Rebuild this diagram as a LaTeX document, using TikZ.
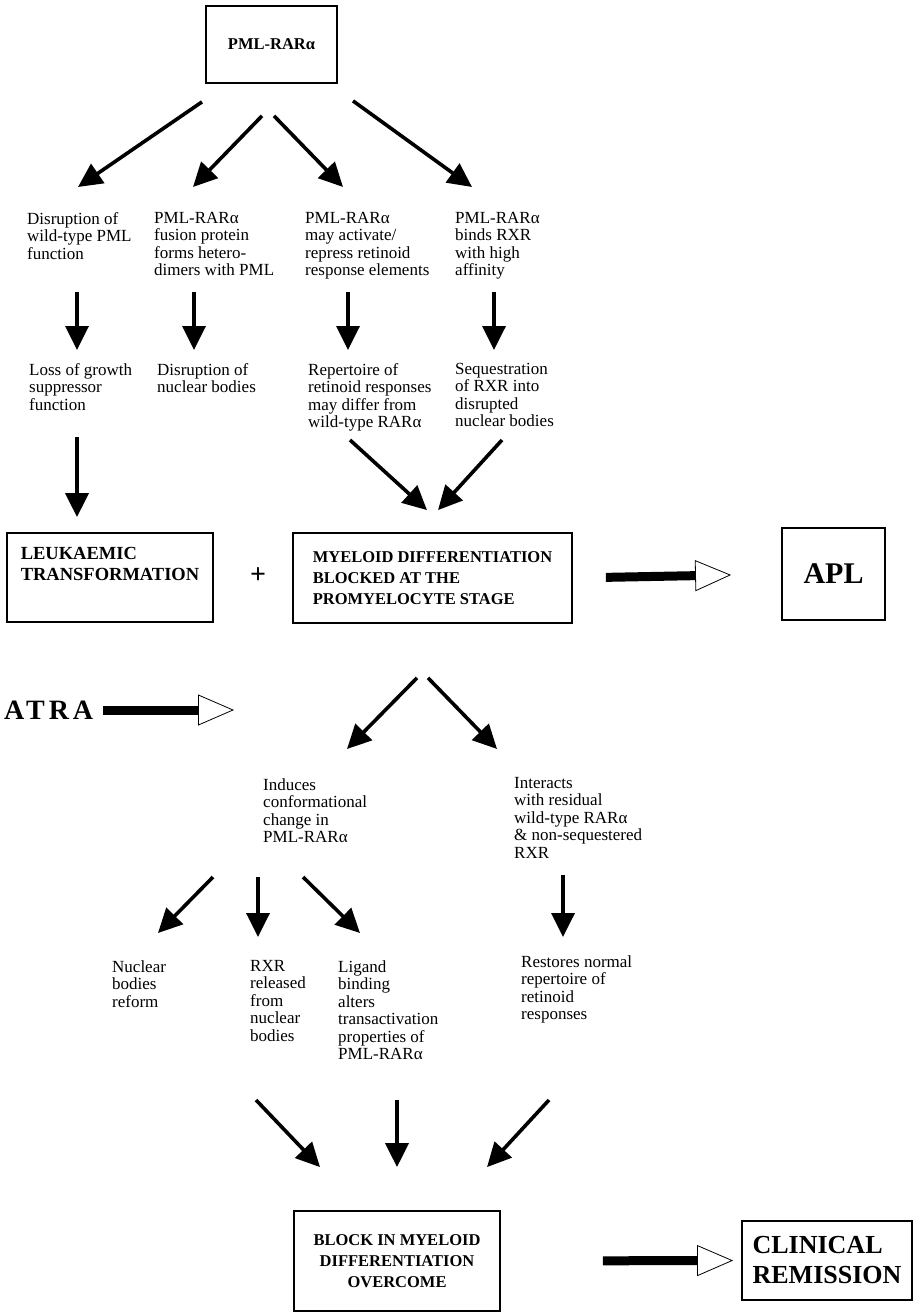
\documentclass[tikz,border=0pt]{standalone}
\usepackage{fontspec}
\setmainfont{Liberation Serif}
\usetikzlibrary{arrows.meta}

\begin{document}
\begin{tikzpicture}[x=1pt,y=-1pt,
   txt/.style={anchor=north west,align=left,inner sep=0pt,font=\fontsize{17}{17.5}\selectfont},
   box/.style={draw,line width=1.8pt,inner sep=0pt,align=left,font=\bfseries\fontsize{16.5}{21}\selectfont},
   arr/.style={line width=3.6pt,-{Triangle[length=24pt,width=23pt]}},
   fat/.style={line width=9pt,-{Triangle[length=36pt,width=31pt,fill=white,line width=0.8pt]}}]
\useasboundingbox (0,0) rectangle (915,1313);

%% ---- PML-RARa and its four effects ----
\node[box,minimum width=131,minimum height=77] (pml) at (271.5,44.5) {PML-RARα};
\node[txt] (t1) at (27,212) {Disruption of\\wild-type PML\\function};
\node[txt] (t2) at (154,212) {PML-RARα\\fusion protein\\forms hetero-\\dimers with PML};
\node[txt] (t3) at (305,212) {PML-RARα\\may activate/\\repress retinoid\\response elements};
\node[txt] (t4) at (455,212) {PML-RARα\\binds RXR\\with high\\affinity};
\draw[arr] ([shift={(-69.5,18)}]pml.south) -- ([shift={(51,-25)}]t1.north west);
\draw[arr] ([shift={(-9.5,32)}]pml.south) -- ([shift={(39,-25)}]t2.north west);
\draw[arr] ([shift={(2.5,32)}]pml.south) -- ([shift={(38,-25)}]t3.north west);
\draw[arr] ([shift={(81.5,17)}]pml.south) -- ([shift={(17,-25)}]t4.north west);

%% ---- consequences ----
\node[txt] (u1) at (29,363) {Loss of growth\\suppressor\\function};
\node[txt] (u2) at (157,363) {Disruption of\\nuclear bodies};
\node[txt] (u3) at (308,363) {Repertoire of\\retinoid responses\\may differ from\\wild-type RARα};
\node[txt] (u4) at (455,363) {Sequestration\\of RXR into\\disrupted\\nuclear bodies};
\draw[arr] ([shift={(50,80)}]t1.north west) -- ([shift={(48,-13)}]u1.north west);
\draw[arr] ([shift={(40,80)}]t2.north west) -- ([shift={(37,-13)}]u2.north west);
\draw[arr] ([shift={(43,80)}]t3.north west) -- ([shift={(40,-13)}]u3.north west);
\draw[arr] ([shift={(39,80)}]t4.north west) -- ([shift={(39,-13)}]u4.north west);

%% ---- leukaemia ----
\node[box,minimum width=206,minimum height=89,font=\bfseries\fontsize{18.5}{21}\selectfont] (leuk) at (110,577.5) {LEUKAEMIC\\TRANSFORMATION\\\strut};
\node[font=\bfseries\fontsize{28}{28}\selectfont] (plus) at (258,576) {+};
\node[box,minimum width=279,minimum height=90] (myel) at (432.5,578) {MYELOID DIFFERENTIATION\\BLOCKED AT THE\\PROMYELOCYTE STAGE};
\node[box,minimum width=103,minimum height=92,font=\bfseries\fontsize{30}{30}\selectfont] (apl) at (833.5,574) {APL};
\draw[arr] ([shift={(48,74)}]u1.north west) -- ([shift={(-33,-15)}]leuk.north);
\draw[arr] ([shift={(42,77)}]u3.north west) -- ([shift={(-5.5,-22)}]myel.north);
\draw[arr] ([shift={(47,77)}]u4.north west) -- ([shift={(5.5,-22)}]myel.north);
\draw[fat,shorten <=33pt,shorten >=50pt] (myel.east) -- (apl.west);

%% ---- ATRA ----
\node[anchor=west,inner sep=0pt,font=\bfseries\fontsize{28}{28}\selectfont\addfontfeature{LetterSpace=14}] (atra) at (4,710) {ATRA};
\coordinate (atrahead) at (234,710);
\draw[fat,shorten <=10pt] (atra.east) -- (atrahead);
\node[txt] (v1) at (263,778) {Induces\\conformational\\change in\\PML-RARα};
\node[txt] (v2) at (514,777) {Interacts\\with residual\\wild-type RARα\\\& non-sequestered\\RXR};
\draw[arr] ([shift={(-15.5,54)}]myel.south) -- ([shift={(84,-29)}]v1.north west);
\draw[arr] ([shift={(-4.5,54)}]myel.south) -- ([shift={(-17,-28)}]v2.north west);

%% ---- effects of ATRA ----
\node[txt] (w1) at (112,960) {Nuclear\\bodies\\reform};
\node[txt] (w2) at (250,960) {RXR\\released\\from\\nuclear\\bodies};
\node[txt] (w3) at (338,960) {Ligand\\binding\\alters\\transactivation\\properties of\\PML-RARα};
\node[txt] (w4) at (521,955) {Restores normal\\repertoire of\\retinoid\\responses};
\draw[arr] ([shift={(-50,99)}]v1.north west) -- ([shift={(46,-27)}]w1.north west);
\draw[arr] ([shift={(-5,99)}]v1.north west) -- ([shift={(8,-23)}]w2.north west);
\draw[arr] ([shift={(40,99)}]v1.north west) -- ([shift={(22,-27)}]w3.north west);
\draw[arr] ([shift={(49,98)}]v2.north west) -- ([shift={(42,-18)}]w4.north west);

%% ---- remission ----
\node[box,minimum width=206,minimum height=100,align=center] (blk) at (397,1261) {BLOCK IN MYELOID\\DIFFERENTIATION\\OVERCOME};
\node[box,minimum width=170,minimum height=79,font=\bfseries\fontsize{26}{30}\selectfont] (clin) at (827,1260.5) {CLINICAL\\REMISSION};
\draw[arr] ([shift={(6,140)}]w2.north west) -- ([shift={(-77,-43)}]blk.north);
\draw[arr] ([shift={(59,140)}]w3.north west) -- ([shift={(0,-43)}]blk.north);
\draw[arr] ([shift={(28,145)}]w4.north west) -- ([shift={(90,-43)}]blk.north);
\draw[fat,shorten <=102pt,shorten >=8pt] (blk.east) -- (clin.west);
\end{tikzpicture}
\end{document}
